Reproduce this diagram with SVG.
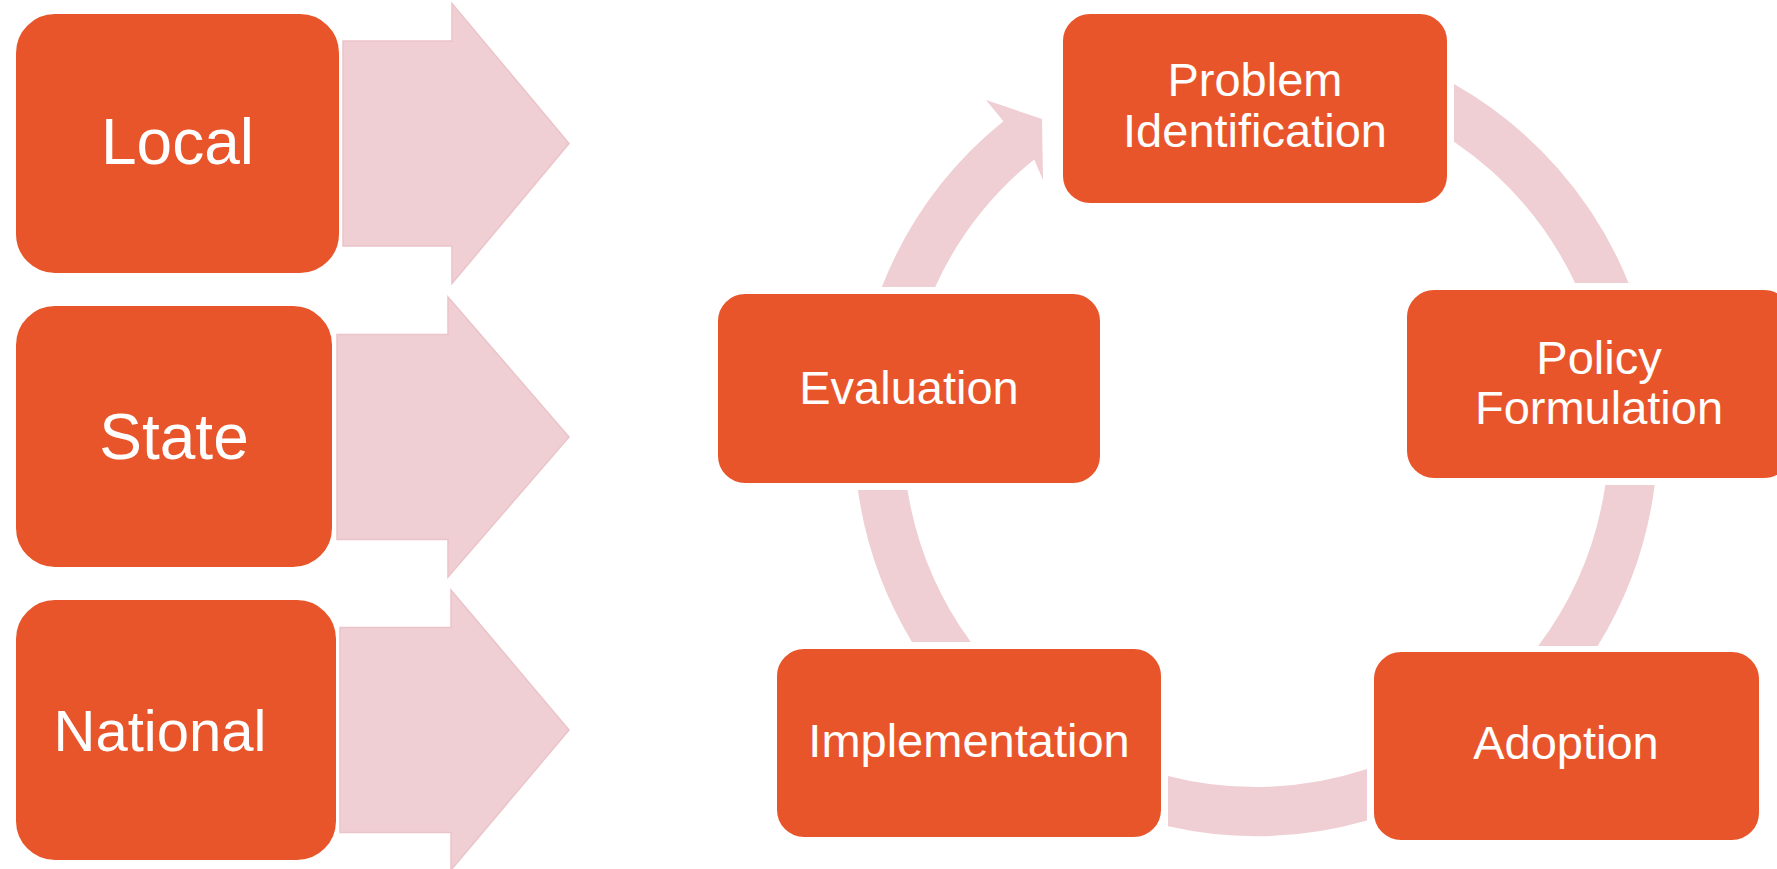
<svg xmlns="http://www.w3.org/2000/svg" width="1777" height="869" viewBox="0 0 1777 869">
<style>
.box{fill:#E9552A;stroke:#FFFFFF;stroke-width:2}
.arr{fill:#EFCFD3;stroke:#EBC4C9;stroke-width:1.5}
.ring{fill:#EFCFD3}
.big{font-family:"Liberation Sans",Arial,sans-serif;font-size:64px;fill:#FFFFFF;text-anchor:middle}
.lbl{font-family:"Liberation Sans",Arial,sans-serif;font-size:47px;fill:#FFFFFF;text-anchor:middle}
</style>
<rect width="1777" height="869" fill="#FFFFFF"/>
<g id="connectors">
  <polygon class="arr" points="343,41 452,41 452,3.5 569,143.5 452,283.5 452,246 343,246"/>
  <polygon class="arr" points="337,334.5 448,334.5 448,297 569,437 448,577 448,539.5 337,539.5"/>
  <polygon class="arr" points="340,627.5 451,627.5 451,590 569,730 451,870 451,832.5 340,832.5"/>
  <path class="ring" d="M1454 84.1 A402 402 0 0 1 1628.6 283 L1575.1 283 A353 353 0 0 0 1454 141.8 Z"/>
  <path class="ring" d="M1654.7 485 A402 402 0 0 1 1597.6 646 L1538.2 646 A353 353 0 0 0 1605.3 485 Z"/>
  <path class="ring" d="M1367 820.4 A402 402 0 0 1 1168 826.3 L1168 775.9 A353 353 0 0 0 1367 769.1 Z"/>
  <path class="ring" d="M912 642 A402 402 0 0 1 857.9 490 L907.5 490 A353 353 0 0 0 970.8 642 Z"/>
  <path class="ring" d="M881.8 287 A402 402 0 0 1 1003.4 121.3 L986 99.9 L1042 119 L1043 180 L1034.2 159.4 A353 353 0 0 0 935.1 287 Z"/>
</g>
<g id="local"><rect class="box" x="15" y="13" width="325" height="261" rx="40"/><text class="big" x="177.5" y="164">Local</text></g>
<g id="state"><rect class="box" x="15" y="305" width="318" height="263" rx="40"/><text class="big" x="174" y="459">State</text></g>
<g id="national"><rect class="box" x="15" y="599" width="322" height="262" rx="40"/><text class="big" x="160" y="751" style="font-size:58px">National</text></g>
<g id="problem"><rect class="box" x="1062" y="13" width="386" height="191" rx="28"/><text class="lbl" x="1255" y="96">Problem</text><text class="lbl" x="1255" y="147">Identification</text></g>
<g id="policy"><rect class="box" x="1406" y="289" width="386" height="190" rx="28"/><text class="lbl" x="1599" y="374">Policy</text><text class="lbl" x="1599" y="424">Formulation</text></g>
<g id="adoption"><rect class="box" x="1373" y="651" width="387" height="190" rx="28"/><text class="lbl" x="1566" y="759">Adoption</text></g>
<g id="implementation"><rect class="box" x="776" y="648" width="386" height="190" rx="28"/><text class="lbl" x="969" y="757">Implementation</text></g>
<g id="evaluation"><rect class="box" x="717" y="293" width="384" height="191" rx="28"/><text class="lbl" x="909" y="404">Evaluation</text></g>
</svg>
